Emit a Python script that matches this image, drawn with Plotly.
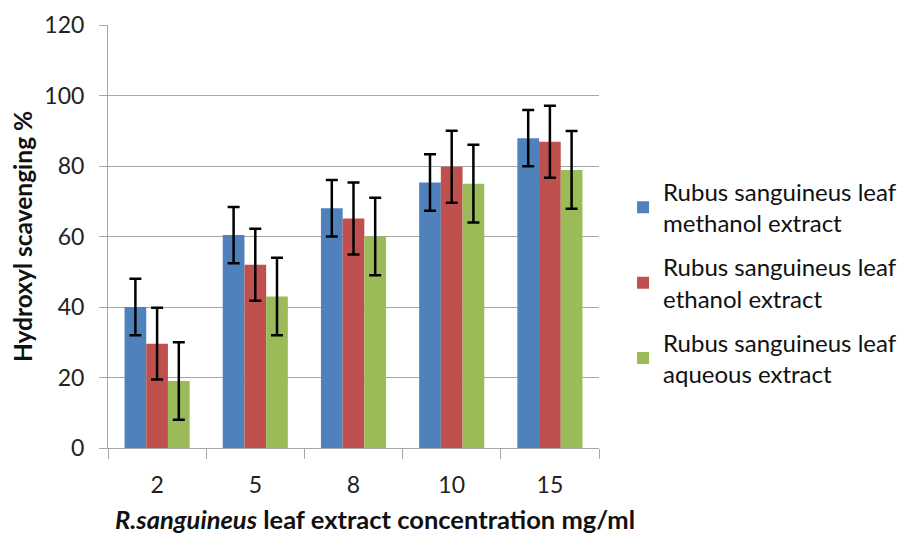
import plotly.graph_objects as go

categories = ["2", "5", "8", "10", "15"]
series_names = [
    "Rubus sanguineus leaf<br>methanol extract",
    "Rubus sanguineus leaf<br>ethanol extract",
    "Rubus sanguineus leaf<br>aqueous extract",
]
methanol = [40.0, 60.4, 68.0, 75.3, 87.9]
ethanol = [29.6, 52.0, 65.1, 79.8, 86.9]
aqueous = [19.0, 43.0, 60.0, 75.0, 78.9]
methanol_err = [8.0, 8.0, 8.0, 8.0, 8.0]
ethanol_err = [10.2, 10.2, 10.2, 10.2, 10.2]
aqueous_err = [11.0, 11.0, 11.0, 11.0, 11.0]
colors = ["#4F81BD", "#C0504D", "#9BBB59"]
x_title = "<i><b>R.sanguineus</b></i><b> leaf extract concentration mg/ml</b>"
y_title = "<b>Hydroxyl scavenging %</b>"

FONT = "Lato"
fig = go.Figure()
for i, (name, vals, errs) in enumerate(zip(series_names,
                                          [methanol, ethanol, aqueous],
                                          [methanol_err, ethanol_err, aqueous_err])):
    fig.add_trace(go.Bar(
        x=categories, y=vals, name=name, legendgroup=f"g{i}",
        marker=dict(color=colors[i], line=dict(width=0)),
        error_y=dict(type="data", array=errs, visible=True,
                     color="black", thickness=2.5, width=6),
    ))

fig.update_layout(
    width=901, height=529,
    margin=dict(l=100, r=310, t=17, b=89, autoexpand=False),
    paper_bgcolor="white", plot_bgcolor="white",
    barmode="group", bargap=0.337, bargroupgap=0,
    font=dict(family=FONT, color="#222222", size=20),
    legend=dict(
        x=1.049, xanchor="left", y=0.39, yanchor="middle",
        traceorder="grouped", tracegroupgap=10,
        font=dict(family=FONT, size=24, color="#111111"),
        bgcolor="rgba(0,0,0,0)",
    ),
    showlegend=True,
    annotations=[dict(
        text=x_title, xref="paper", yref="paper", x=0.543, y=-0.168,
        xanchor="center", yanchor="middle", showarrow=False,
        font=dict(family=FONT, size=25.5, color="#111111"),
    )],
)
fig.update_yaxes(
    range=[0, 120], dtick=20, showgrid=True, gridcolor="#A6A6A6", gridwidth=1,
    showline=True, linecolor="#A6A6A6", linewidth=1,
    ticks="outside", ticklen=8, tickcolor="#A6A6A6",
    ticklabelstandoff=10, automargin=False,
    tickfont=dict(family=FONT, size=23, color="#222222"),
    zeroline=False,
    title=dict(text=y_title, standoff=11,
               font=dict(family=FONT, size=24.5, color="#111111")),
)
fig.update_xaxes(
    showline=True, linecolor="#A6A6A6", linewidth=1,
    ticks="outside", ticklen=10, tickcolor="#A6A6A6", tickson="boundaries",
    ticklabelstandoff=16, automargin=False,
    tickfont=dict(family=FONT, size=23, color="#222222"),
)

fig.write_html("out.html")
